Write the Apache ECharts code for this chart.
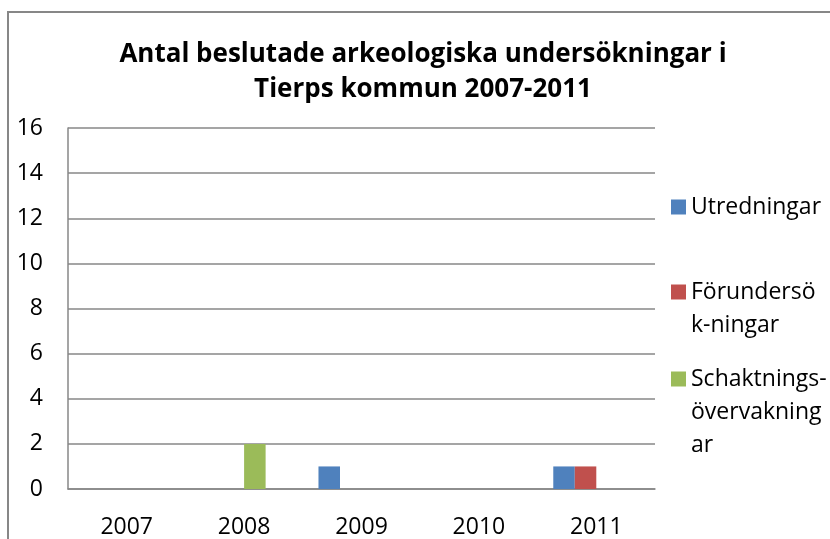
<!DOCTYPE html>
<html>
<head>
<meta charset="utf-8">
<script src="https://cdn.jsdelivr.net/npm/echarts@6/dist/echarts.min.js"></script>
<style>
  html, body { margin: 0; padding: 0; background: #fff; }
  #chart { width: 830px; height: 539px; }
</style>
</head>
<body>
<div id="chart"></div>
<script>
const years = ['2007', '2008', '2009', '2010', '2011']
const utredningar = [0, 0, 1, 0, 1]
const forundersokningar = [0, 0, 0, 0, 1]
const schaktning = [0, 2, 0, 0, 0]
const yTicks = [0, 2, 4, 6, 8, 10, 12, 14, 16]

const FONT = '"Open Sans", sans-serif'
const GRAY = '#878787'

// legend text as wrapped in the original; leading blank lines keep the
// marker level with the first line of text
const legendText = {
  'Utredningar': 'Utredningar',
  'Förundersök-ningar': '\nFörundersö\nk-ningar',
  'Schaktnings-övervakningar': '\n\nSchaktnings-\növervakning\nar'
}

const legendItem = (name, top) => ({
  data: [name],
  orient: 'vertical',
  left: 671,
  top: top,
  padding: 0,
  icon: 'rect',
  itemWidth: 15,
  itemHeight: 15,
  selectedMode: false,
  formatter: n => legendText[n],
  textStyle: {
    fontFamily: FONT,
    fontSize: 23,
    lineHeight: 33,
    color: '#000'
  }
})

const chart = echarts.init(document.getElementById('chart'))
chart.setOption({
  animation: false,
  color: ['#4F81BD', '#C0504D', '#9BBB59'],
  title: {
    text: 'Antal beslutade arkeologiska undersökningar i\nTierps kommun 2007-2011',
    left: 423,
    top: 37,
    padding: 0,
    textAlign: 'center',
    textStyle: {
      fontFamily: FONT,
      fontSize: 26,
      fontWeight: 'bold',
      lineHeight: 35,
      color: '#000'
    }
  },
  legend: [
    legendItem('Utredningar', 190.5),
    legendItem('Förundersök-ningar', 242.5),
    legendItem('Schaktnings-övervakningar', 296.5)
  ],
  graphic: [{
    type: 'rect',
    shape: { x: 8, y: 12, width: 900, height: 600 },
    style: { fill: 'none', stroke: GRAY, lineWidth: 2 },
    silent: true
  }],
  grid: {
    left: 68,
    right: 175,
    top: 128,
    bottom: 48
  },
  xAxis: {
    type: 'category',
    data: years,
    axisLine: { lineStyle: { color: GRAY, width: 1.5 } },
    axisTick: { show: false },
    axisLabel: {
      color: '#000',
      fontFamily: FONT,
      fontSize: 23,
      margin: 27
    }
  },
  yAxis: {
    type: 'value',
    min: yTicks[0],
    max: yTicks[yTicks.length - 1],
    interval: 2,
    axisLine: { show: true, lineStyle: { color: GRAY, width: 1.5 } },
    axisTick: { show: false },
    axisLabel: {
      color: '#000',
      fontFamily: FONT,
      fontSize: 23,
      margin: 25
    },
    splitLine: { lineStyle: { color: GRAY, width: 1.5 } }
  },
  series: [
    {
      name: 'Utredningar',
      type: 'bar',
      data: utredningar,
      barGap: '0%',
      barCategoryGap: '26.7%'
    },
    {
      name: 'Förundersök-ningar',
      type: 'bar',
      data: forundersokningar
    },
    {
      name: 'Schaktnings-övervakningar',
      type: 'bar',
      data: schaktning
    },
    {
      // empty fourth slot, as in the original workbook
      name: ' ',
      type: 'bar',
      data: []
    }
  ]
})
</script>
</body>
</html>
